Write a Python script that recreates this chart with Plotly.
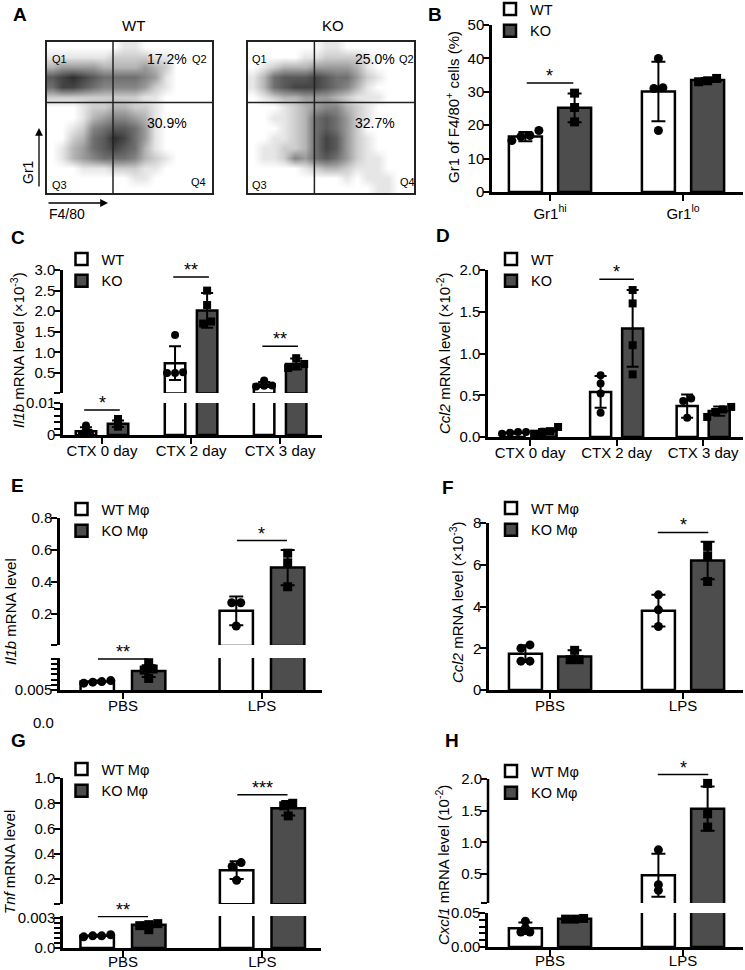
import numpy as np
import plotly.graph_objects as go

FW, FH = 745, 970
FONT = "Liberation Sans, Arial, Helvetica, sans-serif"
KO_FILL = "#4d4d4d"

# ======================= DATA =======================
# Panel A: flow cytometry event density read by eye (rows top->bottom, 0-9)
flow_wt_rows = [
    "0000000110000000",
    "1111112222110000",
    "3444433334320000",
    "7898766665410000",
    "6887655554210000",
    "2222222221100000",
    "0001223322100000",
    "0001345543100000",
    "0012567764100000",
    "0023679864100000",
    "0134678763100000",
    "0134566653210000",
    "0001112221100000",
    "0000000011000000",
    "0000000000000000",
]
flow_ko_rows = [
    "0000000110000000",
    "0000011222210000",
    "0123334444310000",
    "1367778766421000",
    "1367888765310000",
    "0123344432111000",
    "0001234553210000",
    "0011236764210000",
    "0001236764200000",
    "0011236874210000",
    "0112236874210000",
    "0112546764211000",
    "0000012332111000",
    "0000000001011100",
    "0000000000001100",
]
flow_wt_pct = ["17.2%", "30.9%"]
flow_ko_pct = ["25.0%", "32.7%"]

# Panel B
b_cats = ["Gr1<sup>hi</sup>", "Gr1<sup>lo</sup>"]
b_wt_mean = [16.6, 30.1]
b_wt_sd = [1.4, 8.9]
b_wt_pts = [[15.4, 16.6, 16.9, 18.4], [40.0, 31.2, 31.0, 18.4]]
b_ko_mean = [25.2, 33.5]
b_ko_sd = [4.3, 0.6]
b_ko_pts = [[29.6, 25.3, 21.0], [33.0, 34.0, 33.3]]
b_sig_cat, b_sig_y, b_sig_txt = [0], [32.6], ["*"]

# Panel C (x10^-3)
ctx_cats = ["CTX 0 day", "CTX 2 day", "CTX 3 day"]
c_wt_mean = [0.0012, 0.74, 0.22]
c_wt_sd = [0.0012, 0.41, 0.06]
c_wt_pts = [[0.0004, 0.0007, 0.0016, 0.0030], [1.42, 0.50, 0.50, 0.52], [0.32, 0.20, 0.19, 0.17]]
c_ko_mean = [0.0035, 2.02, 0.72]
c_ko_sd = [0.0010, 0.42, 0.13]
c_ko_pts = [[0.0026, 0.0034, 0.0038, 0.0050], [2.50, 2.15, 1.70, 1.75], [0.86, 0.72, 0.62, 0.66]]
c_sig_cat, c_sig_seg, c_sig_y, c_sig_txt = [0, 1, 2], ["low", "high", "high"], [0.0078, 2.83, 1.15], ["*", "**", "**"]

# Panel D (x10^-2)
d_wt_mean = [0.05, 0.54, 0.37]
d_wt_sd = [0.012, 0.19, 0.14]
d_wt_pts = [[0.04, 0.06, 0.06, 0.05], [0.74, 0.64, 0.52, 0.29], [0.46, 0.43, 0.23]]
d_ko_mean = [0.07, 1.30, 0.31]
d_ko_sd = [0.03, 0.46, 0.055]
d_ko_pts = [[0.04, 0.12, 0.07, 0.06], [1.76, 1.60, 1.10, 0.75], [0.36, 0.33, 0.30, 0.24]]
d_sig_cat, d_sig_y, d_sig_txt = [1], [1.89], ["*"]

# Panels E-H
mac_cats = ["PBS", "LPS"]
e_wt_mean = [0.0066, 0.22]
e_wt_sd = [0.0002, 0.09]
e_wt_pts = [[0.0063, 0.0066, 0.0068, 0.0065], [0.27, 0.27, 0.125]]
e_ko_mean = [0.0086, 0.49]
e_ko_sd = [0.0011, 0.11]
e_ko_pts = [[0.0102, 0.0090, 0.0088, 0.0072], [0.58, 0.52, 0.37]]
e_sig_cat, e_sig_seg, e_sig_y, e_sig_txt = [0, 1], ["low", "high"], [0.0109, 0.659], ["**", "*"]

f_wt_mean = [1.74, 3.80]
f_wt_sd = [0.40, 0.76]
f_wt_pts = [[2.16, 2.00, 1.38, 1.38], [4.56, 3.84, 3.04]]
f_ko_mean = [1.60, 6.20]
f_ko_sd = [0.30, 0.90]
f_ko_pts = [[1.90, 1.45, 1.45], [6.88, 6.43, 5.20]]
f_sig_cat, f_sig_y, f_sig_txt = [1], [7.55], ["*"]

g_wt_mean = [0.0012, 0.27]
g_wt_sd = [0.0001, 0.07]
g_wt_pts = [[0.0011, 0.0013, 0.0012, 0.0012], [0.33, 0.30, 0.19]]
g_ko_mean = [0.0023, 0.76]
g_ko_sd = [0.0002, 0.057]
g_ko_pts = [[0.0018, 0.0024, 0.0023, 0.0022], [0.80, 0.78, 0.70]]
g_sig_cat, g_sig_seg, g_sig_y, g_sig_txt = [0, 1], ["low", "high"], [0.0031, 0.868], ["**", "***"]

h_wt_mean = [0.0275, 0.48]
h_wt_sd = [0.0085, 0.34]
h_wt_pts = [[0.038, 0.028, 0.022, 0.022], [0.88, 0.33, 0.24]]
h_ko_mean = [0.0415, 1.53]
h_ko_sd = [0.002, 0.35]
h_ko_pts = [[0.041, 0.042, 0.041], [1.93, 1.45, 1.24]]
h_sig_cat, h_sig_seg, h_sig_y, h_sig_txt = [1], ["high"], [2.07], ["*"]

# ======================= HELPERS =======================
def sfx(k):
    return "" if k == 1 else str(k)

def xdom(a, b):
    return [a / FW, b / FW]

def ydom(top, bot):
    return [1 - bot / FH, 1 - top / FH]

def px(x):
    return x / FW

def py(y):
    return 1 - y / FH

fig = go.Figure()
layout = dict(
    width=FW, height=FH, margin=dict(l=0, r=0, t=0, b=0, pad=0, autoexpand=False),
    paper_bgcolor="white", plot_bgcolor="rgba(0,0,0,0)",
    barmode="overlay", showlegend=True,
    font=dict(family=FONT, size=15, color="black"),
)
shapes = []
annotations = []

def text(x, y, t, size=15, ref=("paper", "paper"), **kw):
    d = dict(x=x, y=y, text=t, xref=ref[0], yref=ref[1], showarrow=False,
             xanchor="center", yanchor="middle",
             font=dict(family=FONT, size=size, color="black"))
    d.update(kw)
    annotations.append(d)

# ---------------- Panel A ----------------
FLOW_CS = [[0, "#ffffff"], [0.1, "#e8e8e8"], [0.45, "#9a9a9a"], [1, "#2e2e2e"]]

def flow_panel(k, xpx, ypx, rows, pcts, qpos, ppos):
    z = [[int(c) for c in r] for r in rows[::-1]]
    ncol, nrow = len(rows[0]), len(rows)
    xs = (np.arange(ncol) + 0.5) * 100 / ncol
    ys = (np.arange(nrow) + 0.5) * 100 / nrow
    fig.add_trace(go.Heatmap(z=z, x=xs, y=ys, zmin=0, zmax=9, zsmooth="best",
                             colorscale=FLOW_CS, showscale=False, hoverinfo="skip",
                             xaxis="x" + sfx(k), yaxis="y" + sfx(k)))
    ax = dict(range=[0, 100], showline=True, mirror=True, linewidth=1.5, linecolor="#222",
              showticklabels=False, ticks="", showgrid=False, zeroline=False, fixedrange=True)
    layout["xaxis" + sfx(k)] = dict(domain=xdom(*xpx), anchor="y" + sfx(k), **ax)
    layout["yaxis" + sfx(k)] = dict(domain=ydom(*ypx), anchor="x" + sfx(k), **ax)
    xr, yr = "x" + sfx(k), "y" + sfx(k)
    shapes.append(dict(type="line", xref=xr, yref=yr, x0=40, x1=40, y0=0, y1=100,
                       line=dict(color="#222", width=1.5)))
    shapes.append(dict(type="line", xref=xr, yref=yr, x0=0, x1=100, y0=60, y1=60,
                       line=dict(color="#222", width=1.5)))
    for lab, (qx, qy) in zip(["Q1", "Q2", "Q3", "Q4"], qpos):
        text(qx, qy, lab, size=11, ref=(xr, yr))
    for lab, (qx, qy) in zip(pcts, ppos):
        text(qx, qy, lab, size=14, ref=(xr, yr))

flow_panel(1, (47, 212), (42, 193), flow_wt_rows, flow_wt_pct,
           [(7.5, 89), (92.5, 89), (7.5, 5.5), (92, 7.3)], [(73, 89), (72.5, 46.4)])
flow_panel(2, (248, 414), (42, 193), flow_ko_rows, flow_ko_pct,
           [(7.2, 89), (95.2, 89), (7.2, 5.5), (95.8, 7.3)], [(76.5, 89), (76.5, 46.4)])
text(px(133), py(25), "WT", size=15)
text(px(333), py(25), "KO", size=15)
# axis arrows
annotations.append(dict(x=px(39), y=py(128), xref="paper", yref="paper", text="",
                        showarrow=True, ax=0, ay=60, arrowhead=2, arrowsize=1.2,
                        arrowwidth=1.3, arrowcolor="black"))
annotations.append(dict(x=px(108), y=py(203), xref="paper", yref="paper", text="",
                        showarrow=True, ax=-61, ay=0, arrowhead=2, arrowsize=1.2,
                        arrowwidth=1.3, arrowcolor="black"))
text(px(28), py(172), "Gr1", size=14, textangle=-90)
text(px(67), py(214), "F4/80", size=14)

# ---------------- bar helpers ----------------
def swarm(vals, tol, step):
    vals = np.asarray(vals, float)
    order = np.argsort(vals)
    offs = np.zeros(len(vals))
    clusters, cur = [], [order[0]]
    for i in order[1:]:
        if vals[i] - vals[cur[-1]] < tol:
            cur.append(i)
        else:
            clusters.append(cur)
            cur = [i]
    clusters.append(cur)
    for c in clusters:
        for j, idx in enumerate(c):
            offs[idx] = (j - (len(c) - 1) / 2) * step
    return offs

def draw_bars(k, lo, hi, wt, ko, off, width, step, legend=None, names=("WT", "KO"),
              cap=7, msize=9, top=False):
    span = hi - lo
    groups = [(wt, -1, "white", "circle", names[0]), (ko, 1, KO_FILL, "square", names[1])]

    def kept(mean):
        return [i for i in range(len(mean)) if (not top) or mean[i] > 0.03 * hi]

    for (mean, sd, pts), sign, fill, sym, nm in groups:
        keep = kept(mean)
        fig.add_trace(go.Bar(
            x=[i + sign * off for i in keep], y=[mean[i] for i in keep], width=width,
            marker=dict(color=fill, line=dict(color="black", width=2.5)),
            error_y=dict(type="data", array=[sd[i] for i in keep], color="black",
                         thickness=2, width=cap),
            name=nm, showlegend=legend is not None, legend=legend or "legend",
            hoverinfo="skip", xaxis="x" + sfx(k), yaxis="y" + sfx(k)))
    for (mean, sd, pts), sign, fill, sym, nm in groups:
        keep = kept(mean)
        xs, ys = [], []
        for i in keep:
            o = swarm(pts[i], 0.04 * span, step)
            xs += list(i + sign * off + o)
            ys += list(pts[i])
        fig.add_trace(go.Scatter(
            x=xs, y=ys, mode="markers", showlegend=False, hoverinfo="skip",
            marker=dict(symbol=sym, size=msize, color="black"),
            xaxis="x" + sfx(k), yaxis="y" + sfx(k)))

def set_axes(k, xpx, ypx, xr, yr, tickvals, ticktext, cats, show_x, yline=True, xstand=-6):
    common = dict(showgrid=False, zeroline=False, fixedrange=True, linecolor="black",
                  linewidth=2.5, ticks="outside", ticklen=6, tickwidth=2, tickcolor="black",
                  tickfont=dict(family=FONT, size=15, color="black"))
    layout["xaxis" + sfx(k)] = dict(domain=xdom(*xpx), range=xr, anchor="y" + sfx(k),
                                    visible=show_x, showline=True, ticklabelstandoff=xstand,
                                    tickvals=list(range(len(cats))), ticktext=cats, **common)
    layout["yaxis" + sfx(k)] = dict(domain=ydom(*ypx), range=yr, anchor="x" + sfx(k),
                                    showline=yline, tickvals=tickvals, ticktext=ticktext,
                                    ticklabelstandoff=-4, **common)

def sig(k, cats, ys, txts, half=0.19):
    for c, y, t in zip(cats, ys, txts):
        shapes.append(dict(type="line", xref="x" + sfx(k), yref="y" + sfx(k),
                           x0=c - half, x1=c + half, y0=y, y1=y,
                           line=dict(color="black", width=1.5)))
        text(c, y, t, size=18, ref=("x" + sfx(k), "y" + sfx(k)), yanchor="bottom", yshift=-5)

def legend_box(name, cx, cy):
    layout[name] = dict(x=px(cx - 22), y=py(cy - 15), xanchor="left", yanchor="top",
                        bgcolor="rgba(0,0,0,0)", font=dict(family=FONT, size=14.5, color="black"),
                        itemwidth=30, traceorder="normal", tracegroupgap=0)

def ppu(xpx, xr):
    return (xpx[1] - xpx[0]) / (xr[1] - xr[0])

def fmt(v, d):
    return f"{v:.{d}f}"

# ---------------- Panel B ----------------
xpx, xr = (492, 743), [-0.436, 1.451]
set_axes(3, xpx, (25, 192), xr, [0, 50], list(range(0, 51, 10)),
         [str(v) for v in range(0, 51, 10)], b_cats, True, xstand=0)
draw_bars(3, 0, 50, (b_wt_mean, b_wt_sd, b_wt_pts), (b_ko_mean, b_ko_sd, b_ko_pts),
          0.185, 0.248, 9 / ppu(xpx, xr), legend="legend")
sig(3, b_sig_cat, b_sig_y, b_sig_txt, half=0.175)
legend_box("legend", 512, 8)
text(px(452), py(107), "Gr1 of F4/80<sup>+</sup> cells (%)", size=15, textangle=-90)

# ---------------- Panel C ----------------
xpx, xr = (63, 322), [-0.438, 2.47]
c_lo, c_hi = 0.015, 3.0
tv = [c_lo + 1e-6] + [0.5, 1.0, 1.5, 2.0, 2.5, 3.0]
set_axes(4, xpx, (270, 393), xr, [c_lo, c_hi], tv, [""] + [fmt(v, 1) for v in tv[1:]],
         ctx_cats, False)
tvl = [0, 0.002, 0.004, 0.006, 0.008, 0.01]
set_axes(5, xpx, (403, 435), xr, [0, 0.01], tvl, ["0", "", "", "", "", "0.01"], ctx_cats, True)
stp = 8 / ppu(xpx, xr)
draw_bars(4, c_lo, c_hi, (c_wt_mean, c_wt_sd, c_wt_pts), (c_ko_mean, c_ko_sd, c_ko_pts),
          0.18, 0.23, stp, legend="legend2", cap=6, msize=8, top=True)
draw_bars(5, 0, 0.01, (c_wt_mean, c_wt_sd, c_wt_pts), (c_ko_mean, c_ko_sd, c_ko_pts),
          0.18, 0.23, stp, cap=6, msize=8)
for c, s, y, t in zip(c_sig_cat, c_sig_seg, c_sig_y, c_sig_txt):
    sig(4 if s == "high" else 5, [c], [y], [t], half=0.2)
legend_box("legend2", 83.5, 258)
text(px(17), py(350), "<i>Il1b</i> mRNA level (×10<sup>-3</sup>)", size=15, textangle=-90)

# ---------------- Panel D ----------------
xpx, xr = (488, 743), [-0.486, 2.46]
tv = [0, 0.5, 1.0, 1.5, 2.0]
set_axes(6, xpx, (270, 437), xr, [0, 2.0], tv, [fmt(v, 1) for v in tv], ctx_cats, True)
draw_bars(6, 0, 2.0, (d_wt_mean, d_wt_sd, d_wt_pts), (d_ko_mean, d_ko_sd, d_ko_pts),
          0.185, 0.243, 8 / ppu(xpx, xr), legend="legend3", cap=6, msize=8)
sig(6, d_sig_cat, d_sig_y, d_sig_txt, half=0.2)
legend_box("legend3", 513, 258)
text(px(443), py(353), "<i>Ccl2</i> mRNA level (×10<sup>-2</sup>)", size=15, textangle=-90)

# ---------------- Panel E ----------------
xpx, xr = (60, 322), [-0.453, 1.432]
e_lo, e_hi = 0.006, 0.8
tv = [e_lo + 1e-7, 0.2, 0.4, 0.6, 0.8]
set_axes(7, xpx, (518, 645), xr, [e_lo, e_hi], tv, [""] + [fmt(v, 1) for v in tv[1:]],
         mac_cats, False)
tvl = [0.005, 0.006, 0.007, 0.008, 0.009, 0.010, 0.011]
set_axes(8, xpx, (658, 690), xr, [0.005, 0.0111], tvl, ["0.005"] + [""] * 6, mac_cats, True)
stp = 9 / ppu(xpx, xr)
draw_bars(7, e_lo, e_hi, (e_wt_mean, e_wt_sd, e_wt_pts), (e_ko_mean, e_ko_sd, e_ko_pts),
          0.185, 0.24, stp, legend="legend4", names=("WT Mφ", "KO Mφ"), top=True)
draw_bars(8, 0.005, 0.0111, (e_wt_mean, e_wt_sd, e_wt_pts), (e_ko_mean, e_ko_sd, e_ko_pts),
          0.185, 0.24, stp)
for c, s, y, t in zip(e_sig_cat, e_sig_seg, e_sig_y, e_sig_txt):
    sig(7 if s == "high" else 8, [c], [y], [t], half=0.18)
legend_box("legend4", 83.5, 508)
text(px(10), py(612), "<i>Il1b</i> mRNA level", size=15, textangle=-90)
text(px(43), py(722), "0.0", size=15)

# ---------------- Panel F ----------------
xpx, xr = (489, 743), [-0.459, 1.451]
tv = [0, 2, 4, 6, 8]
set_axes(9, xpx, (523, 690), xr, [0, 8], tv, [str(v) for v in tv], mac_cats, True)
draw_bars(9, 0, 8, (f_wt_mean, f_wt_sd, f_wt_pts), (f_ko_mean, f_ko_sd, f_ko_pts),
          0.185, 0.248, 9 / ppu(xpx, xr), legend="legend5", names=("WT Mφ", "KO Mφ"))
sig(9, f_sig_cat, f_sig_y, f_sig_txt, half=0.19)
legend_box("legend5", 513, 507)
text(px(456), py(602), "<i>Ccl2</i> mRNA level (×10<sup>-3</sup>)", size=15, textangle=-90)

# ---------------- Panel G ----------------
xpx, xr = (63, 321), [-0.43, 1.42]
g_lo, g_hi = 0.002, 1.0
tv = [g_lo + 1e-7, 0.2, 0.4, 0.6, 0.8, 1.0]
set_axes(10, xpx, (778, 904), xr, [g_lo, g_hi], tv, [""] + [fmt(v, 1) for v in tv[1:]],
         mac_cats, False)
tvl = [0, 0.0005, 0.001, 0.0015, 0.002, 0.0025, 0.003]
set_axes(11, xpx, (916, 948), xr, [0, 0.00315], tvl, ["0.0", "", "", "", "", "", "0.003"],
         mac_cats, True, xstand=-8)
stp = 9 / ppu(xpx, xr)
draw_bars(10, g_lo, g_hi, (g_wt_mean, g_wt_sd, g_wt_pts), (g_ko_mean, g_ko_sd, g_ko_pts),
          0.185, 0.24, stp, legend="legend6", names=("WT Mφ", "KO Mφ"), top=True)
draw_bars(11, 0, 0.00315, (g_wt_mean, g_wt_sd, g_wt_pts), (g_ko_mean, g_ko_sd, g_ko_pts),
          0.185, 0.24, stp)
for c, s, y, t in zip(g_sig_cat, g_sig_seg, g_sig_y, g_sig_txt):
    sig(10 if s == "high" else 11, [c], [y], [t], half=0.18)
legend_box("legend6", 83.5, 768)
text(px(9), py(862), "<i>Tnf</i> mRNA level", size=15, textangle=-90)

# ---------------- Panel H ----------------
xpx, xr = (488, 743), [-0.466, 1.451]
h_lo, h_hi, h_top = 0.04, 2.11, 2.0
tv = [h_lo + 1e-6, 0.5, 1.0, 1.5, 2.0]
set_axes(12, xpx, (772, 903), xr, [h_lo, h_hi], tv, [""] + [fmt(v, 1) for v in tv[1:]],
         mac_cats, False, yline=False)
shapes.append(dict(type="line", xref="x12 domain", yref="y12", x0=0, x1=0, y0=h_lo, y1=h_top,
                   line=dict(color="black", width=2.5)))
tvl = [0, 0.01, 0.02, 0.03, 0.04, 0.05]
set_axes(13, xpx, (913, 947), xr, [0, 0.05], tvl, ["0.00", "", "", "", "", "0.05"], mac_cats,
         True, xstand=-8)
stp = 9 / ppu(xpx, xr)
draw_bars(12, h_lo, h_hi, (h_wt_mean, h_wt_sd, h_wt_pts), (h_ko_mean, h_ko_sd, h_ko_pts),
          0.185, 0.248, stp, legend="legend7", names=("WT Mφ", "KO Mφ"), top=True)
draw_bars(13, 0, 0.05, (h_wt_mean, h_wt_sd, h_wt_pts), (h_ko_mean, h_ko_sd, h_ko_pts),
          0.185, 0.248, stp)
for c, s, y, t in zip(h_sig_cat, h_sig_seg, h_sig_y, h_sig_txt):
    sig(12 if s == "high" else 13, [c], [y], [t], half=0.19)
legend_box("legend7", 513, 770)
text(px(442), py(865), "<i>Cxcl1</i> mRNA level (10<sup>-2</sup>)", size=15, textangle=-90)

# ---------------- panel letters ----------------
for lab, (lx, ly) in zip("ABCDEFGH", [(20, 15), (435, 15), (18, 237), (443, 235),
                                      (17, 485), (448, 487), (18, 740), (452, 740)]):
    text(px(lx), py(ly), f"<b>{lab}</b>", size=19)

layout["shapes"] = shapes
layout["annotations"] = annotations
fig.update_layout(**layout)
fig.write_html("out.html", config={"displayModeBar": False},
               post_script="document.body.style.margin='0px';")
